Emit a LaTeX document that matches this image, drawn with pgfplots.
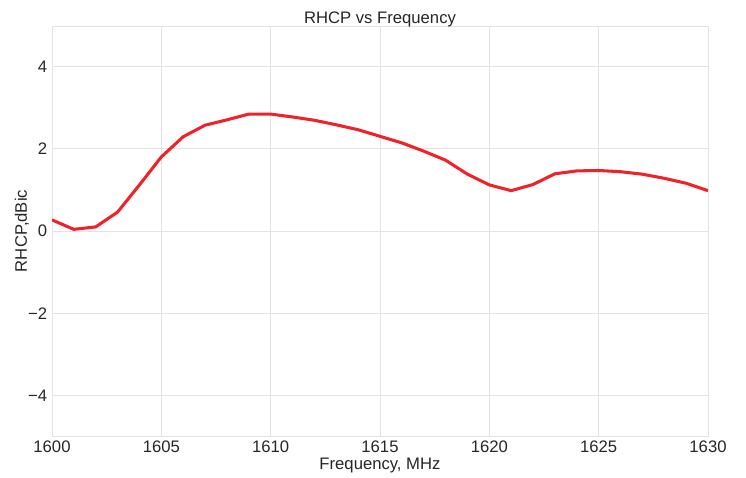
\documentclass[border=0pt]{standalone}
\usepackage{pgfplots}
\pgfplotsset{compat=1.18}
\usepackage{fontspec}
\setmainfont{Liberation Sans}
\definecolor{gridgray}{HTML}{E3E3E3}
\definecolor{linered}{HTML}{EE2228}
\definecolor{txt}{HTML}{262626}
\begin{document}
\begin{tikzpicture}
\path[use as bounding box] (-37.44pt,-29.52pt) rectangle (499.68pt,313.92pt);
\begin{axis}[
  at={(0,0)}, anchor=south west,
  scale only axis, width=472.32pt, height=295.2pt,
  xmin=1600, xmax=1630, ymin=-4.98, ymax=4.98,
  xtick={1600,1605,...,1630}, ytick={-4,-2,0,2,4},
  yticklabels={−4,−2,0,2,4},
  major tick length=0pt,
  grid=major,
  grid style={gridgray, line width=0.6pt},
  axis line style={gridgray, line width=0.6pt},
  tick label style={font=\fontsize{12}{14}\selectfont, text=txt},
  /pgf/number format/assume math mode=true,
  /pgf/number format/1000 sep={},
  title={RHCP vs Frequency},
  title style={font=\fontsize{12}{14}\selectfont, text=txt, yshift=-10pt},
  xlabel={Frequency, MHz}, ylabel={RHCP,dBic},
  label style={font=\fontsize{12}{14}\selectfont, text=txt},
  xlabel style={yshift=3pt},
  ylabel style={at={(axis description cs:-0.0457,0.5)}, anchor=center},
]
\addplot[linered, line width=2.2pt, line join=round] coordinates {
(1600,0.27) (1601,0.04) (1602,0.10) (1603,0.46) (1604,1.12) (1605,1.80)
(1606,2.29) (1607,2.57) (1608,2.70) (1609,2.84) (1610,2.84) (1611,2.77)
(1612,2.69) (1613,2.58) (1614,2.46) (1615,2.30) (1616,2.14) (1617,1.94)
(1618,1.72) (1619,1.38) (1620,1.12) (1621,0.98) (1622,1.13) (1623,1.39)
(1624,1.46) (1625,1.47) (1626,1.44) (1627,1.38) (1628,1.28) (1629,1.16)
(1630,0.98)
};
\end{axis}
\end{tikzpicture}
\end{document}
